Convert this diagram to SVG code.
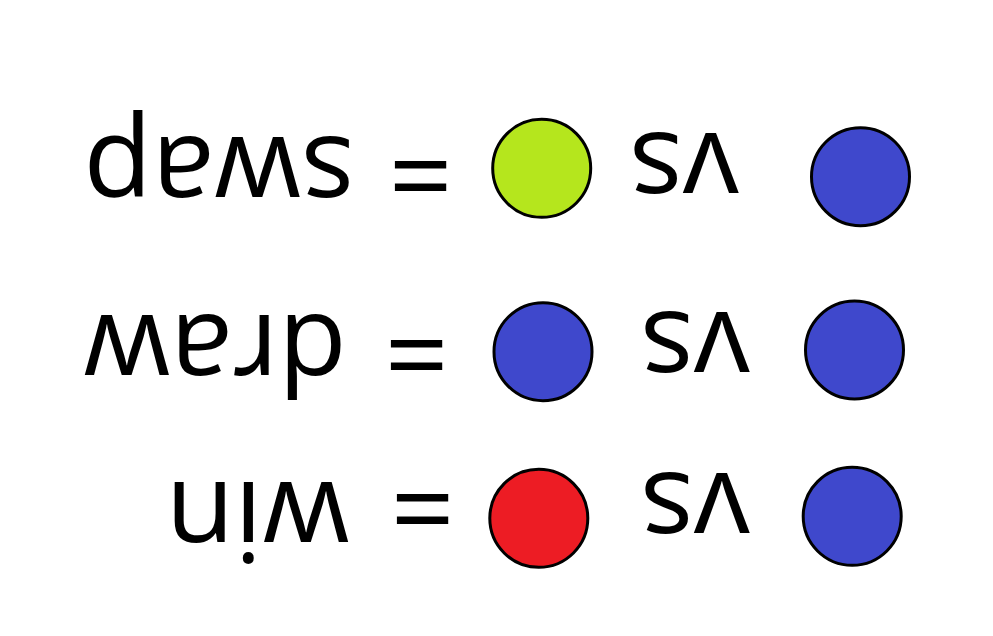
<svg xmlns="http://www.w3.org/2000/svg" width="993" height="636" viewBox="0 0 993 636">
<style>
.c{stroke:#000;stroke-width:3}
.t{font-family:"Open Sans","Liberation Sans",sans-serif;font-size:112px;fill:#000}
</style>
<rect width="993" height="636" fill="#fff"/>
<g id="row-swap">
<circle class="c" cx="541.7" cy="168.3" r="49" fill="#B5E61D"/>
<circle class="c" cx="860.5" cy="176.7" r="49" fill="#3F48CC"/>
</g>
<g id="row-draw">
<circle class="c" cx="543" cy="351.7" r="49" fill="#3F48CC"/>
<circle class="c" cx="854.5" cy="350" r="49" fill="#3F48CC"/>
</g>
<g id="row-win">
<circle class="c" cx="538.8" cy="518.3" r="49" fill="#ED1C24"/>
<circle class="c" cx="852.2" cy="516.3" r="49" fill="#3F48CC"/>
</g>
<g id="labels" transform="rotate(180 496.5 318)">
<text class="t" x="774" y="499.3" text-anchor="middle">swap</text>
<text class="t" x="572.5" y="500" text-anchor="middle">=</text>
<text class="t" x="309" y="502.7" text-anchor="middle">vs</text>
<text class="t" x="778" y="321" text-anchor="middle">draw</text>
<text class="t" x="576.5" y="321.5" text-anchor="middle">=</text>
<text class="t" x="298" y="324.3" text-anchor="middle">vs</text>
<text class="t" x="735.5" y="154.3" text-anchor="middle">win</text>
<text class="t" x="570.5" y="167.5" text-anchor="middle">=</text>
<text class="t" x="298" y="162.7" text-anchor="middle">vs</text>
</g>
</svg>
